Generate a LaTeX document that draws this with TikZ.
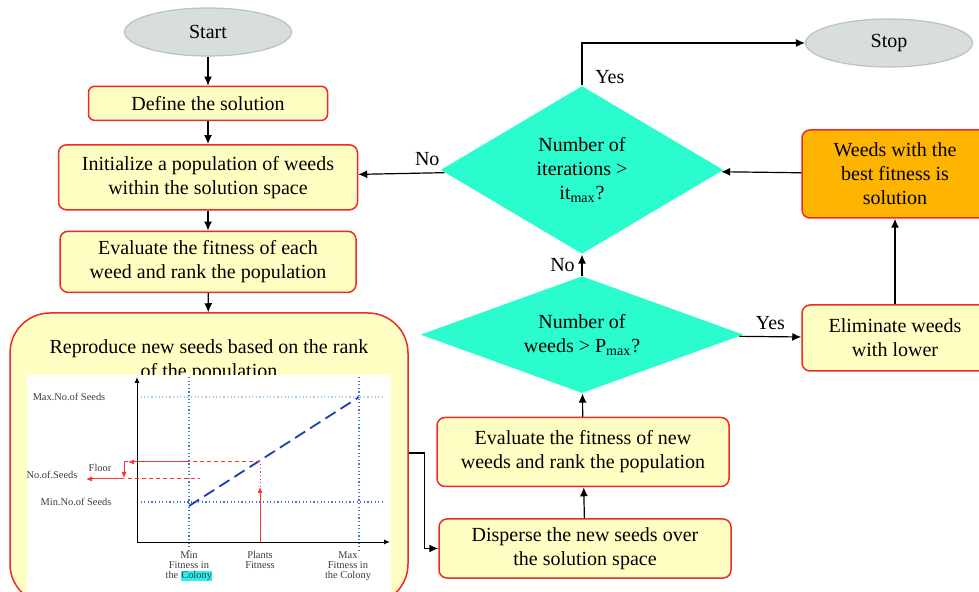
\documentclass[tikz,border=0pt]{standalone}
\usepackage{fontspec}
\setmainfont{Liberation Serif}
\usepackage{tikz}
\usetikzlibrary{arrows.meta}
\usetikzlibrary{positioning}
\usetikzlibrary{shapes.geometric}

\definecolor{boxred}{RGB}{240,40,40}
\definecolor{boxyellow}{RGB}{255,255,196}
\definecolor{termgray}{RGB}{216,221,221}
\definecolor{termline}{RGB}{185,195,195}
\definecolor{decision}{RGB}{42,252,206}
\definecolor{bestorange}{RGB}{255,180,0}
\definecolor{chartblue}{RGB}{70,115,215}
\definecolor{chartlight}{RGB}{160,205,235}
\definecolor{curveblue}{RGB}{30,60,180}
\definecolor{chartred}{RGB}{255,50,50}
\definecolor{charttext}{RGB}{60,60,60}
\definecolor{colonycyan}{RGB}{40,240,240}

\begin{document}
\begin{tikzpicture}[x=0.5pt, y=-0.5pt, line width=0.6pt,
        >={Latex[length=4.5pt, width=4pt]},
        font=\fontsize{10}{12}\selectfont,
        box/.style={draw=boxred, fill=boxyellow, line width=0.75pt, rounded corners=4pt, align=center, inner sep=2pt},
        terminal/.style={ellipse, draw=termline, fill=termgray, minimum width=83.5pt, minimum height=24pt},
        decide/.style={diamond, fill=decision, align=center, inner sep=0pt},
        chartlabel/.style={font=\fontsize{5.2}{5}\selectfont, text=charttext, inner sep=0pt, align=center},
        axisline/.style={-{Latex[length=3pt, width=2.5pt]}, line width=0.5pt},
        guide/.style={chartblue, line width=0.6pt, dash pattern=on 0.6pt off 1.2pt},
        redarrow/.style={-{Latex[length=3pt, width=2.6pt]}, chartred, line width=0.5pt}]
        \clip (0,0) rectangle (979,592);

        \node [terminal] (start) at (208,32) {Start};
        \node [box, rounded corners=3pt, minimum width=119.5pt, minimum height=17pt, below = 14.5pt of start] (define) {Define the solution};
        \node [box, minimum width=149.5pt, minimum height=32.5pt, below = 11.5pt of define] (init) {Initialize a population of weeds\\within the solution space};
        \node [box, minimum width=148pt, minimum height=30.5pt, below = 10pt of init] (evaluate) {Evaluate the fitness of each\\weed and rank the population};

        \node [box, rounded corners=20pt, minimum width=199pt, minimum height=145.5pt] (repro) at (209,458.5) {};
        \node [align=center] (reprotitle) at (209,361) {Reproduce new seeds based on the rank\\of the population};
        \fill [white] (27,375) rectangle (391,600);

        % seeds against fitness
        \draw [guide] (189,377) -- (189,552);
        \draw [guide] (359,377) -- (359,552);
        \draw [guide, chartlight] (137,397) -- (383,397);
        \draw [guide] (137,502) -- (383,502);
        \draw [axisline] (137,542) -- (137,377);
        \draw [axisline] (137,542) -- (390,542);
        \draw [curveblue, line width=0.9pt, dash pattern=on 6pt off 3pt] (189,506) -- (359,397);

        \draw [redarrow] (260,542) -- (260,487);
        \draw [chartred, line width=0.5pt, dash pattern=on 0.6pt off 1.2pt] (260,487) -- (260,462);
        \draw [chartred, line width=0.5pt, dash pattern=on 2pt off 1.5pt] (260,462) -- (189,462);
        \draw [redarrow] (189,462) -- (128,462);
        \draw [redarrow] (128,462) -- (124,462) -- (124,478);
        \draw [chartred, line width=0.5pt, dash pattern=on 2pt off 1.5pt] (128,479) -- (200,479);
        \draw [redarrow] (124,479) -- (86,479);

        \node [chartlabel] (maxseeds) at (69,397) {Max.No.of Seeds};
        \node [chartlabel] (floor) at (100,468) {Floor};
        \node [chartlabel] (nseeds) at (52,475) {No.of.Seeds};
        \node [chartlabel] (minseeds) at (76,502) {Min.No.of Seeds};
        \node [chartlabel, anchor=north] (minfit) at (189,551) {Min\\Fitness in\\the {\fboxsep=0.2pt\colorbox{colonycyan}{Colony}}};
        \node [chartlabel, anchor=north] (plantfit) at (260,551) {Plants\\Fitness};
        \node [chartlabel, anchor=north] (maxfit) at (348,551) {Max\\Fitness in\\the Colony};

        \node [terminal] (stop) at (889,43) {Stop};
        \node [box, minimum width=146pt, minimum height=29.5pt] (disperse) at (585,548.5) {Disperse the new seeds over\\the solution space};
        \node [box, minimum width=146pt, minimum height=34.5pt, above = 15.5pt of disperse, xshift=-1pt] (evalnew) {Evaluate the fitness of new\\weeds and rank the population};
        \node [decide, aspect=2.76, minimum width=161.5pt, minimum height=58.5pt, above = 11.5pt of evalnew, xshift=-0.5pt] (weeds) {Number of\\weeds > P\textsubscript{max}?};
        \node [decide, aspect=1.68, minimum width=141.5pt, minimum height=84pt, above = 10.5pt of weeds] (iter) {Number of\\iterations >\\it\textsubscript{max}?};
        \node [box, minimum width=93pt, minimum height=33pt] (elim) at (895,338) {Eliminate weeds\\with lower};
        \node [box, fill=bestorange, minimum width=93pt, minimum height=44pt] (best) at (895,174) {Weeds with the\\best fitness is\\solution};

        \draw [->] (start) -- (define);
        \draw [->] (define) -- (init);
        \draw [->] (init) -- (evaluate);
        \draw [->] (evaluate) -- (repro);
        \draw [->] ([yshift=2.75pt]repro.east) -- ++(16,0) |- (disperse);

        \draw [->] (disperse) -- (evalnew);
        \draw [->] (evalnew) -- (weeds);
        \draw [->] (weeds) -- node [left] {No} (iter);
        \draw [->] (weeds) -- node [above] {Yes} (elim);
        \draw [->] (elim) -- (best);
        \draw [->] (best) -- (iter);
        \draw [->] (iter) -- node [above, pos=0.2] {No} (init);
        \draw [->] (iter) |- node [right, pos=0.14, xshift=3pt, yshift=-2pt] {Yes} (stop);
    \end{tikzpicture}
\end{document}
